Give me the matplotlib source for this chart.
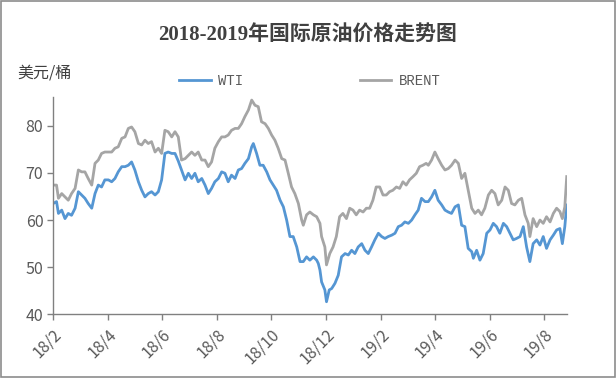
import matplotlib
matplotlib.use('Agg')
import matplotlib.pyplot as plt
from matplotlib.patches import Rectangle

plt.rcParams['font.family'] = ['Noto Sans CJK SC', 'DejaVu Sans']

# months since 2018-02 (x) and prices
wti_m = [0.01, 0.13, 0.20, 0.32, 0.44, 0.56, 0.68, 0.81, 0.93, 1.05, 1.17, 1.29, 1.42,
         1.54, 1.66, 1.78, 1.90, 2.03, 2.15, 2.27, 2.39, 2.52, 2.64, 2.76, 2.88, 3.00,
         3.13, 3.25, 3.37, 3.49, 3.61, 3.74, 3.86, 3.98, 4.10, 4.22, 4.35, 4.47, 4.59,
         4.71, 4.84, 4.96, 5.08, 5.20, 5.32, 5.45, 5.57, 5.69, 5.81, 5.93, 6.06, 6.18,
         6.30, 6.42, 6.54, 6.67, 6.79, 6.91, 7.03, 7.16, 7.28, 7.34, 7.46, 7.58, 7.70,
         7.83, 7.95, 8.07, 8.19, 8.32, 8.44, 8.56, 8.68, 8.80, 8.93, 9.05, 9.17, 9.29,
         9.41, 9.54, 9.66, 9.72, 9.78, 9.84, 9.96, 10.02, 10.12, 10.21, 10.33, 10.45,
         10.57, 10.70, 10.82, 10.94, 11.06, 11.18, 11.31, 11.43, 11.55, 11.67, 11.79,
         11.92, 12.04, 12.16, 12.28, 12.41, 12.53, 12.65, 12.77, 12.89, 13.02, 13.14,
         13.26, 13.38, 13.50, 13.63, 13.75, 13.87, 13.99, 14.11, 14.24, 14.36, 14.48,
         14.60, 14.73, 14.85, 14.97, 15.09, 15.21, 15.34, 15.40, 15.52, 15.64, 15.76,
         15.89, 16.01, 16.13, 16.25, 16.37, 16.50, 16.62, 16.74, 16.86, 16.98, 17.11,
         17.23, 17.35, 17.47, 17.59, 17.72, 17.84, 17.96, 18.08, 18.21, 18.33, 18.45,
         18.57, 18.66, 18.75, 18.82]
wti = [63.5, 63.9, 61.4, 62.1, 60.3, 61.4, 61.0, 62.5, 66.0, 65.3, 64.6, 63.5, 62.5,
       65.6, 67.4, 67.0, 68.5, 68.5, 68.1, 68.8, 70.2, 71.3, 71.3, 71.6, 72.3, 70.6,
       68.1, 66.3, 64.9, 65.6, 66.0, 65.3, 66.0, 68.5, 74.1, 74.4, 74.1, 74.1, 72.5,
       70.6, 68.5, 69.9, 68.8, 69.9, 68.1, 68.8, 67.4, 65.6, 66.7, 68.1, 68.8, 70.2,
       69.9, 68.1, 69.5, 68.8, 70.6, 70.9, 72.0, 73.0, 75.5, 76.2, 74.1, 71.6, 71.6,
       70.2, 68.5, 67.4, 66.3, 64.2, 62.8, 60.0, 56.5, 56.5, 54.3, 51.2, 51.2, 52.2,
       51.5, 52.2, 51.5, 50.8, 49.4, 46.9, 45.2, 42.7, 45.2, 45.5, 46.6, 48.3,
       52.2, 52.9, 52.6, 53.6, 52.9, 54.3, 55.0, 53.6, 52.9, 54.3, 55.8,
       57.2, 56.5, 56.1, 56.5, 56.8, 57.2, 58.6, 58.9, 59.6, 59.3, 60.0,
       61.1, 62.1, 64.6, 63.9, 63.9, 64.9, 66.3, 64.2, 63.2, 62.1, 61.7,
       61.4, 62.8, 63.2, 58.9, 58.6, 54.0, 53.3, 51.9, 53.6, 51.5, 52.9,
       57.2, 57.9, 59.3, 58.6, 57.2, 59.3, 58.6, 57.2, 55.8, 56.1, 56.5,
       58.6, 54.3, 51.2, 55.0, 55.8, 54.7, 56.5, 54.0, 55.8, 56.8, 57.9,
       58.2, 55.0, 58.6, 63.2]

brent_m = [0.01, 0.13, 0.20, 0.32, 0.44, 0.56, 0.68, 0.81, 0.93, 1.05, 1.17, 1.29, 1.42,
           1.54, 1.66, 1.78, 1.90, 2.03, 2.15, 2.27, 2.39, 2.52, 2.64, 2.76, 2.88, 3.00,
           3.13, 3.25, 3.37, 3.49, 3.61, 3.74, 3.86, 3.98, 4.10, 4.22, 4.35, 4.47, 4.59,
           4.71, 4.84, 4.96, 5.08, 5.20, 5.32, 5.45, 5.57, 5.69, 5.81, 5.93, 6.06, 6.18,
           6.30, 6.42, 6.54, 6.67, 6.79, 6.91, 7.03, 7.16, 7.28, 7.40, 7.52, 7.64, 7.77,
           7.89, 8.01, 8.13, 8.25, 8.38, 8.50, 8.62, 8.74, 8.86, 8.99, 9.11, 9.17, 9.29,
           9.41, 9.54, 9.66, 9.78, 9.84, 9.96, 10.02, 10.14, 10.26, 10.38, 10.50, 10.62,
           10.75, 10.87, 10.99, 11.11, 11.23, 11.36, 11.48, 11.60, 11.72, 11.84, 11.97,
           12.09, 12.21, 12.33, 12.45, 12.58, 12.70, 12.82, 12.94, 13.06, 13.19, 13.31,
           13.43, 13.55, 13.67, 13.75, 13.87, 13.99, 14.11, 14.24, 14.36, 14.48, 14.60,
           14.73, 14.85, 14.97, 15.09, 15.21, 15.34, 15.46, 15.58, 15.70, 15.82, 15.95,
           16.07, 16.19, 16.31, 16.44, 16.56, 16.68, 16.80, 16.92, 17.05, 17.17, 17.29,
           17.41, 17.47, 17.59, 17.72, 17.84, 17.96, 18.08, 18.21, 18.33, 18.45, 18.57,
           18.66, 18.75, 18.82]
brent = [67.4, 67.4, 64.6, 65.6, 64.9, 64.2, 65.6, 66.7, 70.6, 70.2, 70.2, 68.8, 67.4,
         72.0, 72.7, 74.1, 74.4, 74.4, 74.4, 75.2, 75.5, 77.3, 77.6, 79.4, 79.7, 78.7,
         76.2, 75.9, 76.9, 76.2, 76.6, 74.4, 75.2, 74.1, 79.0, 78.7, 77.6, 78.7, 77.6,
         72.7, 73.0, 73.7, 74.4, 73.7, 74.4, 72.7, 72.7, 71.3, 72.3, 75.2, 76.6, 77.6,
         77.6, 78.0, 79.0, 79.4, 79.4, 80.4, 81.9, 83.3, 85.4, 84.3, 84.0, 80.8, 80.4,
         79.4, 78.0, 76.9, 75.2, 73.0, 72.7, 69.9, 67.0, 65.6, 63.5, 60.0, 58.9, 61.1,
         61.7, 61.1, 60.7, 59.3, 56.5, 54.3, 50.5, 52.9, 54.3, 56.5, 60.7, 61.4,
         60.3, 62.5, 62.1, 61.1, 62.1, 61.7, 62.5, 62.5, 64.2, 67.0, 67.0,
         65.3, 65.3, 66.0, 66.3, 67.0, 66.7, 68.1, 67.4, 68.5, 69.2, 69.9,
         71.3, 71.6, 72.0, 71.6, 72.7, 74.4, 73.0, 71.6, 70.6, 70.9, 71.6,
         72.7, 72.0, 68.8, 69.9, 66.3, 62.5, 61.4, 62.1, 61.1, 62.5, 65.3,
         66.3, 65.6, 63.2, 64.2, 67.0, 66.3, 63.5, 63.2, 64.2, 64.6, 61.1,
         59.3, 56.5, 60.3, 58.6, 60.0, 59.3, 60.7, 59.6, 61.4, 62.5, 61.8,
         60.3, 62.8, 69.2]

tick_pos = [0, 2, 4, 6, 8, 10, 12, 14, 16, 18]
tick_labels = ['18/2', '18/4', '18/6', '18/8', '18/10', '18/12', '19/2', '19/4', '19/6', '19/8']

fig = plt.figure(figsize=(6.16, 3.78), dpi=100)
fig.patches.append(Rectangle((0.002, 0.003), 0.996, 0.994, transform=fig.transFigure,
                             fill=False, edgecolor='#8c8c8c', linewidth=1.2))
ax = fig.add_axes([0.086, 0.168, 0.834, 0.576])

ax.plot(wti_m, wti, color='#5596d3', lw=2.0, label='WTI')
ax.plot(brent_m, brent, color='#a5a5a5', lw=2.0, label='BRENT')

ax.set_xlim(0, 18.82)
ax.set_ylim(40, 86.1)
ax.set_yticks([40, 50, 60, 70, 80])
ax.set_xticks(tick_pos)
ax.set_xticklabels(tick_labels, rotation=45, ha='right', va='top', rotation_mode='anchor')

for s in ['top', 'right']:
    ax.spines[s].set_visible(False)
for s in ['left', 'bottom']:
    ax.spines[s].set_color('#808080')
    ax.spines[s].set_linewidth(1.0)
ax.tick_params(axis='both', colors='#808080', labelcolor='#595959', labelsize=11.5,
               length=4, width=1.0, direction='out')
ax.tick_params(axis='y', pad=3)
ax.tick_params(axis='x', pad=4)

fig.text(0.5, 0.905, '2018-2019年国际原油价格走势图', ha='center', va='center',
         fontsize=15, color='#404040', fontweight='bold',
         family=['Liberation Serif', 'Noto Sans CJK SC'])
fig.text(0.028, 0.807, '美元/桶', ha='left', va='center', fontsize=11.5, color='#404040')

# legend drawn like the Excel one
leg = ax.legend(loc='center left', bbox_to_anchor=(0.245, 1.072), ncol=2, frameon=False,
                borderpad=0, borderaxespad=0,
                handlelength=2.3, columnspacing=8.4, handletextpad=0.5,
                prop={'family': 'Liberation Mono', 'size': 10})
for t in leg.get_texts():
    t.set_color('#595959')

fig.savefig('out.png', dpi=100)
